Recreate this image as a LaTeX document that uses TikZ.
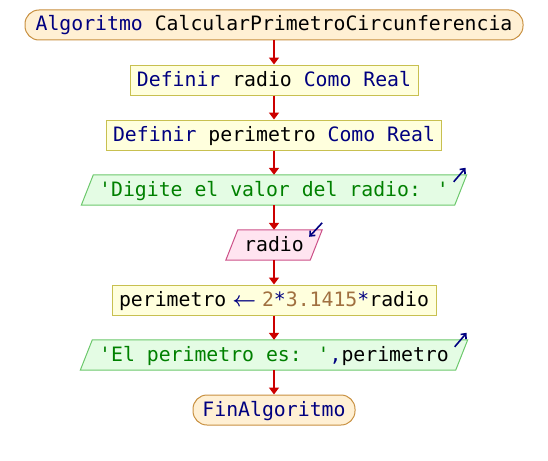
\documentclass[tikz,border=0pt]{standalone}
\usepackage{amsmath}
\usepackage{fontspec}
\newfontfamily\codefont{DejaVu Sans Mono}
\usetikzlibrary{arrows.meta,backgrounds}

\definecolor{kwc}{HTML}{000080}
\definecolor{strc}{HTML}{008000}
\definecolor{numc}{HTML}{A07040}
\definecolor{termfill}{HTML}{FFF0D4}
\definecolor{termdraw}{HTML}{C89040}
\definecolor{procfill}{HTML}{FFFFDD}
\definecolor{procdraw}{HTML}{C8C050}
\definecolor{outfill}{HTML}{E4FCE4}
\definecolor{outdraw}{HTML}{6CC86C}
\definecolor{infill}{HTML}{FFE4F0}
\definecolor{indraw}{HTML}{CC5088}
\definecolor{flowc}{HTML}{CC0000}

\newcommand\kwtxt[1]{\textcolor{kwc}{#1}}
\newcommand\strtxt[1]{\textcolor{strc}{#1}}
\newcommand\numtxt[1]{\textcolor{numc}{#1}}
% assignment arrow filling three character cells
\newcommand\assignarrow{\makebox[35.7pt]{\kwtxt{$\boldsymbol{\leftarrow}$}}}

\begin{document}
\begin{tikzpicture}[x=1pt,y=-1pt,
  base/.style={font=\codefont\fontsize{19.8}{22}\selectfont,
    minimum height=30pt, inner sep=0pt, text height=15pt, text depth=3pt},
  termbox/.style={base, draw=termdraw, fill=termfill, line width=1pt, rounded corners=14pt},
  procbox/.style={base, draw=procdraw, fill=procfill, line width=1pt},
  iobox/.style={base},
  outshape/.style={draw=outdraw, fill=outfill, line width=1pt},
  inshape/.style={draw=indraw, fill=infill, line width=1pt},
  flow/.style={draw=flowc, line width=2pt, -{Triangle[width=10pt,length=7pt]}},
  iomark/.style={draw=kwc, line width=1.6pt, -{Straight Barb[length=4pt,width=7pt]}}]

\useasboundingbox (0,0) rectangle (548,460);

\node[termbox, minimum width=498pt] (start) at (274,25)
  {\kwtxt{Algoritmo} CalcularPrimetroCircunferencia};
\node[procbox, minimum width=288pt] (d1) at (274,80)
  {\kwtxt{Definir} radio \kwtxt{Como Real}};
\node[procbox, minimum width=335pt] (d2) at (274,135)
  {\kwtxt{Definir} perimetro \kwtxt{Como Real}};
\node[iobox, minimum width=373pt] (o1) at (274,190)
  {\strtxt{'Digite el valor del radio: '}};
\node[iobox, minimum width=84pt] (in) at (274,245) {radio};
\node[procbox, minimum width=324pt] (asg) at (274,300)
  {perimetro\assignarrow\numtxt{2}\kwtxt{*}\numtxt{3.1415}\kwtxt{*}radio};
\node[iobox, minimum width=375pt] (o2) at (274,355)
  {\strtxt{'El perimetro es: '}\kwtxt{,}perimetro};
\node[termbox, minimum width=162pt] (fin) at (274,410) {\kwtxt{FinAlgoritmo}};

% slanted input/output shapes behind their texts
\begin{scope}[on background layer]
  \foreach \n in {o1,o2} {
    \draw[outshape] ([xshift=-6pt]\n.south west) -- ([xshift=-6pt]\n.south east)
      -- ([xshift=6pt]\n.north east) -- ([xshift=6pt]\n.north west) -- cycle;
  }
  \draw[inshape] ([xshift=-6pt]in.south west) -- ([xshift=-6pt]in.south east)
    -- ([xshift=6pt]in.north east) -- ([xshift=6pt]in.north west) -- cycle;
\end{scope}

% output / input markers
\draw[iomark] ([shift={(-7,7)}]o1.north east) -- ([shift={(5,-7)}]o1.north east);
\draw[iomark] ([shift={(-7,7)}]o2.north east) -- ([shift={(5,-7)}]o2.north east);
\draw[iomark] ([shift={(6,-7)}]in.north east) -- ([shift={(-7,7)}]in.north east);

% flow connectors
\draw[flow] (start.south) -- (d1.north);
\draw[flow] (d1.south) -- (d2.north);
\draw[flow] (d2.south) -- (o1.north);
\draw[flow] (o1.south) -- (in.north);
\draw[flow] (in.south) -- (asg.north);
\draw[flow] (asg.south) -- (o2.north);
\draw[flow] (o2.south) -- (fin.north);
\end{tikzpicture}
\end{document}
